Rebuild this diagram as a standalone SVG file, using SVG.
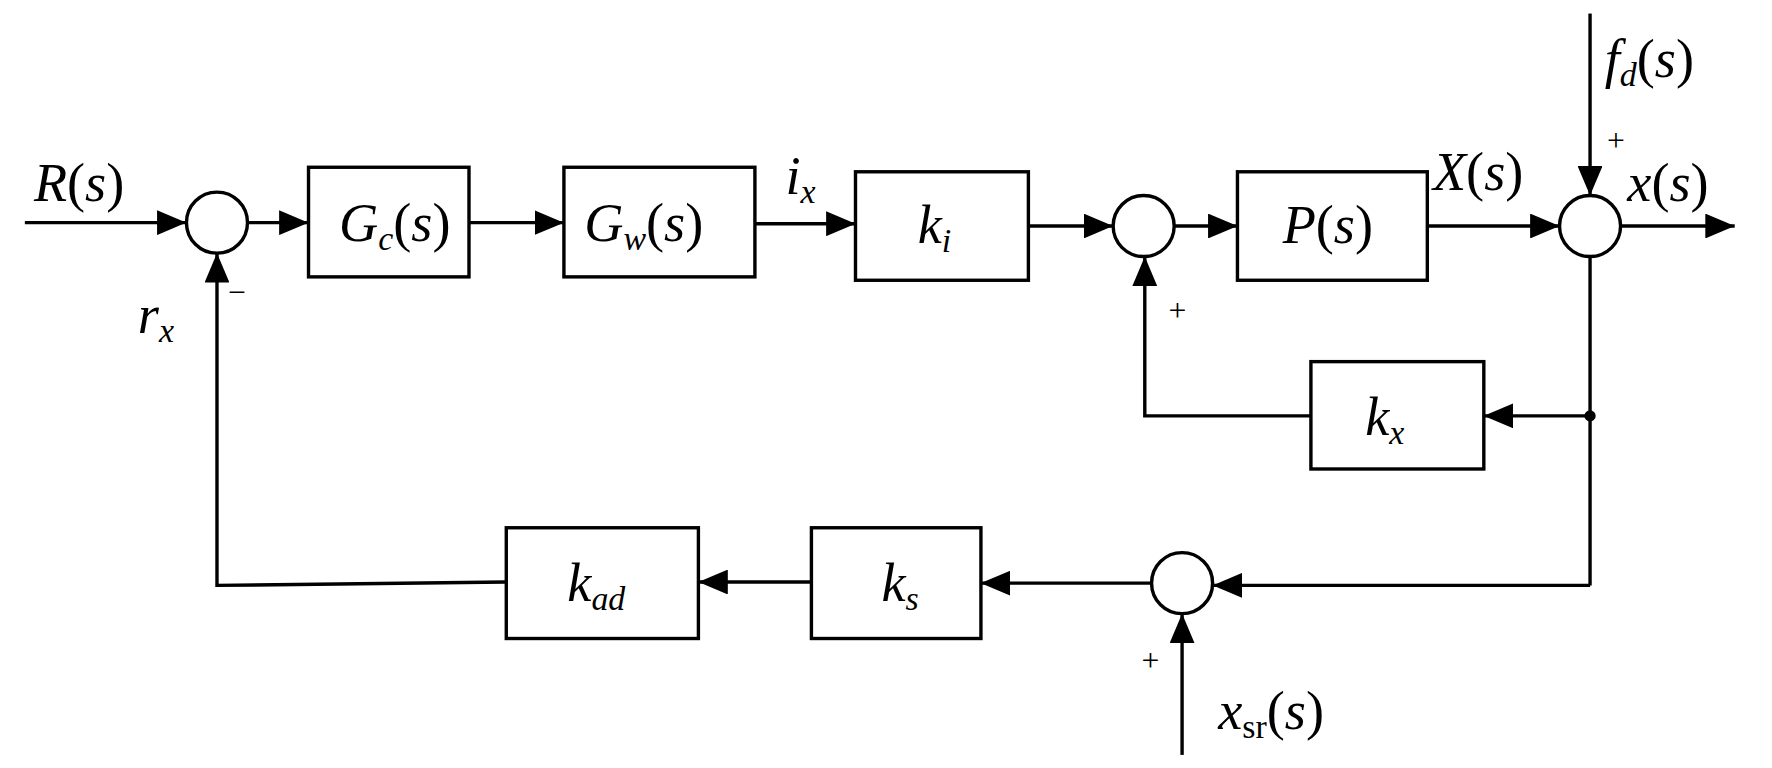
<svg xmlns="http://www.w3.org/2000/svg" width="1772" height="768" viewBox="0 0 1772 768">
<defs>
<marker id="a" markerWidth="10" markerHeight="10" refX="9" refY="5" orient="auto" markerUnits="userSpaceOnUse" viewBox="0 0 10 10"><path d="M0,0L10,5L0,10z" fill="#000"/></marker>
<style>
.b{fill:#fff;stroke:#000;stroke-width:3}
.c{fill:#fff;stroke:#000;stroke-width:3}
.l{fill:none;stroke:#000;stroke-width:3}
.ar{marker-end:url(#a)}
text{font-family:"Liberation Serif",serif;font-size:48px;font-style:italic;fill:#000}
.sub{font-size:30px}
.p{font-style:normal;font-size:28px}
</style>
</defs>
<rect width="1772" height="768" fill="#fff"/>
<g transform="scale(1.1301)">
<g id="connectors">
<marker id="m" markerWidth="26" markerHeight="22" refX="26" refY="11" orient="auto" markerUnits="userSpaceOnUse"><path d="M0,0L26,11L0,22z" fill="#000"/></marker>
<path class="l" marker-end="url(#m)" d="M22,197H165"/>
<path class="l" marker-end="url(#m)" d="M219,197H273"/>
<path class="l" marker-end="url(#m)" d="M415,197H499"/>
<path class="l" marker-end="url(#m)" d="M668,198H757"/>
<path class="l" marker-end="url(#m)" d="M910,200H985"/>
<path class="l" marker-end="url(#m)" d="M1039,200H1095"/>
<path class="l" marker-end="url(#m)" d="M1263,200H1380"/>
<path class="l" marker-end="url(#m)" d="M1434,200H1535"/>
<path class="l" marker-end="url(#m)" d="M1407,12V173"/>
<path class="l" d="M1407,227V518"/>
<circle cx="1407" cy="368" r="5" fill="#000"/>
<path class="l" marker-end="url(#m)" d="M1407,368H1313"/>
<path class="l" marker-end="url(#m)" d="M1160,368H1013V227"/>
<path class="l" marker-end="url(#m)" d="M1407,518H1073"/>
<path class="l" marker-end="url(#m)" d="M1019,516H868"/>
<path class="l" marker-end="url(#m)" d="M718,515H618"/>
<path class="l" marker-end="url(#m)" d="M448,515L192,518V224"/>
<path class="l" marker-end="url(#m)" d="M1046,668V543"/>
</g>
<g id="sum1"><circle class="c" cx="192" cy="197" r="27"/></g>
<g id="sum2"><circle class="c" cx="1012" cy="200" r="27"/></g>
<g id="sum3"><circle class="c" cx="1407" cy="200" r="27"/></g>
<g id="sum4"><circle class="c" cx="1046" cy="516" r="27"/></g>
<g id="Gc"><rect class="b" x="273" y="148" width="142" height="97"/><text x="300" y="213">G<tspan class="sub" dy="8">c</tspan><tspan dy="-8" font-style="normal">(</tspan>s<tspan font-style="normal">)</tspan></text></g>
<g id="Gw"><rect class="b" x="499" y="148" width="169" height="97"/><text x="517" y="213">G<tspan class="sub" dy="8">w</tspan><tspan dy="-8" font-style="normal">(</tspan>s<tspan font-style="normal">)</tspan></text></g>
<g id="ki"><rect class="b" x="757" y="152" width="153" height="96"/><text x="812" y="215">k<tspan class="sub" dy="8">i</tspan></text></g>
<g id="P"><rect class="b" x="1095" y="152" width="168" height="96"/><text x="1135" y="215">P<tspan font-style="normal">(</tspan>s<tspan font-style="normal">)</tspan></text></g>
<g id="kx"><rect class="b" x="1160" y="320" width="153" height="95"/><text x="1208" y="385">k<tspan class="sub" dy="8">x</tspan></text></g>
<g id="ks"><rect class="b" x="718" y="467" width="150" height="98"/><text x="780" y="532">k<tspan class="sub" dy="8">s</tspan></text></g>
<g id="kad"><rect class="b" x="448" y="467" width="170" height="98"/><text x="502" y="532">k<tspan class="sub" dy="8">ad</tspan></text></g>
<g id="labels">
<text x="30" y="178">R<tspan font-style="normal">(</tspan>s<tspan font-style="normal">)</tspan></text>
<text x="695" y="172">i<tspan class="sub" dy="8">x</tspan></text>
<text x="1268" y="168">X<tspan font-style="normal">(</tspan>s<tspan font-style="normal">)</tspan></text>
<text x="1440" y="178">x<tspan font-style="normal">(</tspan>s<tspan font-style="normal">)</tspan></text>
<text x="1420" y="68">f<tspan class="sub" dy="8">d</tspan><tspan dy="-8" font-style="normal">(</tspan>s<tspan font-style="normal">)</tspan></text>
<text x="122" y="295">r<tspan class="sub" dy="8">x</tspan></text>
<text x="1078" y="645">x<tspan class="sub" dy="8" font-style="normal">sr</tspan><tspan dy="-8" font-style="normal">(</tspan>s<tspan font-style="normal">)</tspan></text>
<text class="p" x="1422" y="134">+</text>
<text class="p" x="1034" y="284">+</text>
<text class="p" x="1010" y="594">+</text>
<text class="p" x="202" y="268">−</text>
</g>
</g>
</svg>
